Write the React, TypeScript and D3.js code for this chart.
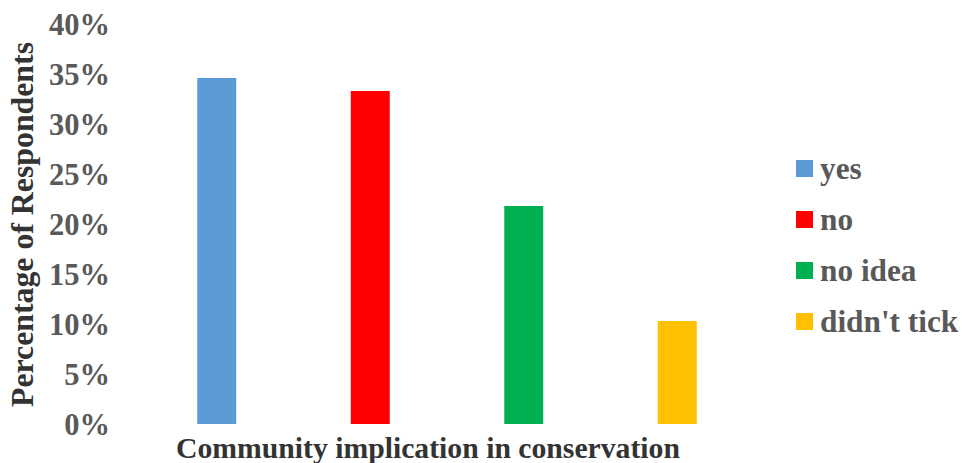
import React from "react";
import * as d3 from "d3";

const categories = ["yes", "no", "no idea", "didn't tick"];
const values = [34.6, 33.3, 21.8, 10.3];
const colors = ["#5B9BD5", "#FF0000", "#00B050", "#FFC000"];
const yTicks = [0, 5, 10, 15, 20, 25, 30, 35, 40];

const W = 962;
const H = 463;
const FONT = "Liberation Serif";

export default function App() {
  const y = d3.scaleLinear().domain([0, 40]).range([424, 24]);
  const x = d3.scaleBand<string>().domain(categories).range([140, 754]).paddingInner(0.746).paddingOuter(0.373);

  return (
    <svg width={W} height={H} style={{ position: "absolute", left: 0, top: 0, background: "#fff", fontFamily: FONT }}>
      {yTicks.map((t) => (
        <text key={t} x={110} y={y(t)} dy="0.35em" textAnchor="end" fontWeight="bold" fontSize={30.5} fill="#595959">
          {t}%
        </text>
      ))}
      {categories.map((c, i) => (
        <rect key={c} x={x(c)} y={y(values[i])} width={x.bandwidth()} height={y(0) - y(values[i])} fill={colors[i]} />
      ))}
      <text x={428} y={458} textAnchor="middle" fontWeight="bold" fontSize={29.7} fill="#333">
        Community implication in conservation
      </text>
      <text transform={`translate(33,224.5) rotate(-90)`} textAnchor="middle" fontWeight="bold" fontSize={31.8} fill="#333">
        Percentage of Respondents
      </text>
      {categories.map((c, i) => {
        const cy = 168.5 + i * 51;
        return (
          <g key={c}>
            <rect x={796} y={cy - 8.5} width={17} height={17} fill={colors[i]} />
            <text x={820} y={cy} dy="0.35em" fontWeight="bold" fontSize={31.3} fill="#595959">
              {c}
            </text>
          </g>
        );
      })}
    </svg>
  );
}
